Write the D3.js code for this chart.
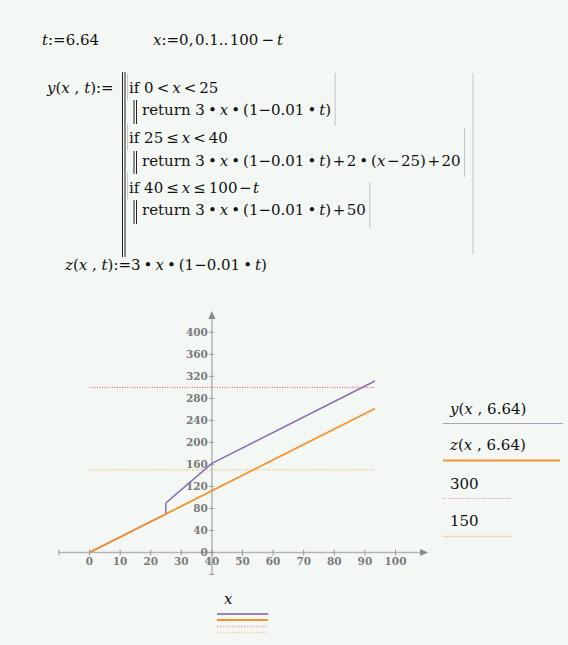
<!DOCTYPE html>
<html><head><meta charset="utf-8">
<script src="https://cdn.jsdelivr.net/npm/d3@7"></script>
<style>
body{margin:0;background:#f4f8f5;}
svg{display:block;}
text{font-family:"DejaVu Serif",serif;}
</style>
</head><body>
<svg id="c" width="568" height="645"></svg>
<script>
// ---------- data ----------
const tValue = 6.64;
const xTickValues = [0, 10, 20, 30, 40, 50, 60, 70, 80, 90, 100];
const yTickValues = [0, 40, 80, 120, 160, 200, 240, 280, 320, 360, 400];
const xMinorEnds = [-10, 110];
const yMinorEnds = [-40, 435];
// y(x, 6.64)
const yCurveX = [0, 24.9, 25, 40, 93.3];
const yCurveY = [0, 69.7, 90.0, 162.0, 311.5];
// z(x, 6.64)
const zCurveX = [0, 93.3];
const zCurveY = [0, 261.5];
// horizontal marker traces
const markerValues = [300, 150];
const markerSpan = [0, 93.3];
const legendLabels = ["y(x, 6.64)", "z(x, 6.64)", "300", "150"];

const colors = {
  purple: "#8d6db3",
  orange: "#f7912c",
  red: "#e24a4a",
  lightOrange: "#f6a545",
  axis: "#b4b4b4",
  tick: "#7a7a7a"
};

const svg = d3.select("#c");

// ---------- math text helper ----------
function math(x, y, parts, size) {
  const t = svg.append("text").attr("x", x).attr("y", y)
    .attr("font-size", size || 15).attr("fill", "#111")
    .attr("xml:space", "preserve").style("white-space", "pre");
  parts.forEach(p => {
    const s = t.append("tspan").text(p[0]);
    if (p[1]) s.attr("font-style", "italic");
  });
  return t;
}
const I = s => [s, true], N = s => [s, false];
const DOT = "\u2009\u2022\u2009";
const H = "\u200A", TS = "\u2009";

math(42, 45, [I("t"), N(":=6.64")]);
math(153, 45, [I("x"), N(":=0," + H + "0.1.." + H + "100" + TS + "\u2212" + TS), I("t")]);

math(47, 93, [I("y"), N("("), I("x"), N(" , "), I("t"), N(")"), N(":=")]);
const l1 = math(129, 93, [N("if 0" + TS + "<" + TS), I("x"), N(TS + "<" + TS + "25")]);
const r1 = math(142, 115, [N("return 3"), N(DOT), I("x"), N(DOT), N("(1\u22120.01"), N(DOT), I("t"), N(")")]);
const l2 = math(129, 142.5, [N("if 25" + TS + "\u2264" + TS), I("x"), N(TS + "<" + TS + "40")]);
const r2 = math(142, 166, [N("return 3"), N(DOT), I("x"), N(DOT), N("(1\u22120.01"), N(DOT), I("t"), N(")" + H + "+" + H + "2"), N(DOT), N("("), I("x"), N(H + "\u2212" + H + "25)" + H + "+" + H + "20")]);
const l3 = math(129, 192.5, [N("if 40" + TS + "\u2264" + TS), I("x"), N(TS + "\u2264" + TS + "100" + H + "\u2212" + H), I("t")]);
const r3 = math(142, 215, [N("return 3"), N(DOT), I("x"), N(DOT), N("(1\u22120.01"), N(DOT), I("t"), N(")" + H + "+" + H + "50")]);
math(65, 270, [I("z"), N("("), I("x"), N(" , "), I("t"), N(")"), N(":=3"), N(DOT), I("x"), N(DOT), N("(1\u22120.01"), N(DOT), I("t"), N(")")]);

// program bars
function vbar(x, y1, y2, color, w) {
  svg.append("line").attr("x1", x).attr("x2", x).attr("y1", y1).attr("y2", y2)
    .attr("stroke", color).attr("stroke-width", w || 1);
}
vbar(122.5, 72, 257, "#222");
vbar(125, 72, 257, "#222");
[[74, 100], [124, 150], [173, 199]].forEach(d => vbar(127.5, d[0], d[1], "#c8c8c8"));
[[100, 124], [151, 174], [200, 224]].forEach(d => { vbar(134, d[0], d[1], "#222"); vbar(136.5, d[0], d[1], "#222"); });
function endX(t) { const b = t.node().getBBox(); return b.x + b.width; }
vbar(endX(r1) + 4, 73, 126, "#c4c4c4");
vbar(endX(r2) + 4, 128, 177, "#c4c4c4");
vbar(endX(r3) + 4, 182, 228, "#c4c4c4");
vbar(473, 73, 254, "#c4c4c4");

// ---------- chart ----------
const x = d3.scaleLinear().domain([0, 100]).range([89.5, 395.5]);
const y = d3.scaleLinear().domain([0, 400]).range([552.5, 332.3]);

const g = svg.append("g");
// axes lines
g.append("line").attr("x1", x(xMinorEnds[0])).attr("x2", x(xMinorEnds[1]) - 4)
  .attr("y1", y(0)).attr("y2", y(0)).attr("stroke", colors.axis).attr("stroke-width", 1.5);
g.append("path").attr("d", `M${x(xMinorEnds[1]) + 2},${y(0)} l-8,-3.5 l0,7 z`).attr("fill", "#8a8a8a");
g.append("line").attr("x1", x(40)).attr("x2", x(40))
  .attr("y1", y(yMinorEnds[0])).attr("y2", y(yMinorEnds[1]) + 4)
  .attr("stroke", colors.axis).attr("stroke-width", 1.5);
g.append("path").attr("d", `M${x(40)},${y(yMinorEnds[1]) - 2} l-3.5,8 l7,0 z`).attr("fill", "#8a8a8a");

// ticks
const xTickAll = [xMinorEnds[0]].concat(xTickValues);
g.selectAll(".xt").data(xTickAll).enter().append("line")
  .attr("x1", d => x(d)).attr("x2", d => x(d)).attr("y1", y(0) - 3).attr("y2", y(0) + 3)
  .attr("stroke", "#999").attr("stroke-width", 1);
const yTickAll = [yMinorEnds[0]].concat(yTickValues);
g.selectAll(".yt").data(yTickAll).enter().append("line")
  .attr("x1", x(40) - 3).attr("x2", x(40) + 2).attr("y1", d => y(d)).attr("y2", d => y(d))
  .attr("stroke", "#999").attr("stroke-width", 1);

g.selectAll(".xl").data(xTickValues).enter().append("text")
  .attr("x", d => x(d)).attr("y", 565).attr("text-anchor", "middle")
  .attr("font-family", "Liberation Serif").attr("font-size", 10.5).attr("font-weight", "bold")
  .attr("fill", colors.tick).text(d => d);
g.selectAll(".yl").data(yTickValues).enter().append("text")
  .attr("x", x(40) - 4).attr("y", d => y(d) + 3.5).attr("text-anchor", "end")
  .attr("font-family", "Liberation Serif").attr("font-size", 10.5).attr("font-weight", "bold")
  .attr("fill", colors.tick).text(d => d);

// markers
const markerColors = [colors.red, colors.lightOrange];
markerValues.forEach((v, i) => {
  g.append("line").attr("x1", x(markerSpan[0])).attr("x2", x(markerSpan[1]))
    .attr("y1", y(v)).attr("y2", y(v))
    .attr("stroke", markerColors[i]).attr("stroke-width", 1).attr("stroke-dasharray", "1,1.5");
});

const line = d3.line().x(d => x(d[0])).y(d => y(d[1]));
g.append("path").datum(yCurveX.map((v, i) => [v, yCurveY[i]])).attr("d", line)
  .attr("fill", "none").attr("stroke", colors.purple).attr("stroke-width", 1.5);
g.append("path").datum(zCurveX.map((v, i) => [v, zCurveY[i]])).attr("d", line)
  .attr("fill", "none").attr("stroke", colors.orange).attr("stroke-width", 1.8);

// ---------- right legend ----------
const legRows = [
  {parts: [I("y"), N("("), I("x"), N(" , 6.64)")], by: 414, ly: 423.5, x2: 563, c: "#a99cc6", w: 1, dash: null},
  {parts: [I("z"), N("("), I("x"), N(" , 6.64)")], by: 450, ly: 460.5, x2: 560, c: colors.orange, w: 2, dash: null},
  {parts: [N(legendLabels[2])], by: 489, ly: 498.5, x2: 513, c: "#f08a8a", w: 1, dash: "1,1.5"},
  {parts: [N(legendLabels[3])], by: 526, ly: 536.5, x2: 513, c: "#f8b870", w: 1.5, dash: "1,1"}
];
legRows.forEach(r => {
  math(450, r.by, r.parts);
  svg.append("line").attr("x1", 443).attr("x2", r.x2).attr("y1", r.ly).attr("y2", r.ly)
    .attr("stroke", r.c).attr("stroke-width", r.w).attr("stroke-dasharray", r.dash);
});

// ---------- bottom legend ----------
math(224, 604, [I("x")]);
const bottom = [
  {y: 614, c: colors.purple, w: 2, dash: null, o: 0.85},
  {y: 620, c: colors.orange, w: 2, dash: null, o: 1},
  {y: 626.5, c: "#f28a8a", w: 1.5, dash: "1.5,1.5", o: 0.7},
  {y: 632.5, c: "#f8c080", w: 1.5, dash: "1.5,1.5", o: 0.7}
];
bottom.forEach(b => svg.append("line").attr("x1", 217).attr("x2", 268).attr("y1", b.y).attr("y2", b.y)
  .attr("stroke", b.c).attr("stroke-width", b.w).attr("stroke-dasharray", b.dash).attr("opacity", b.o));
</script>
</body></html>
